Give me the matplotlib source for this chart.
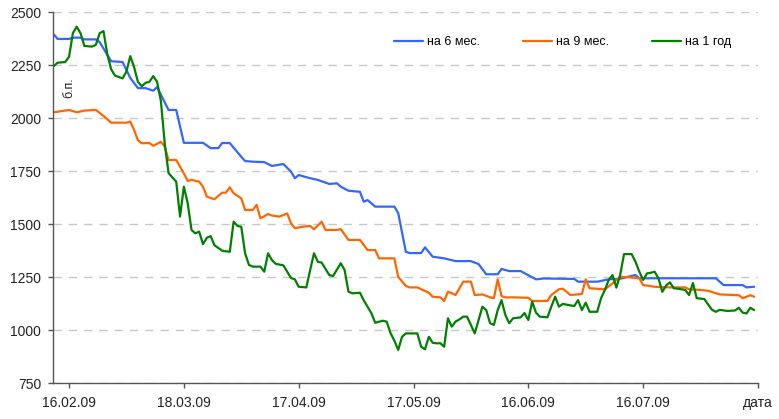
import matplotlib
matplotlib.use("Agg")
import matplotlib.pyplot as plt
from matplotlib.legend import Legend
import pandas as pd

plt.rcParams["font.family"] = ["Liberation Sans", "DejaVu Sans"]

start = pd.Timestamp("2009-02-16")

# days after 16.02.09 and spread in basis points
days_6m = [-4, -3, 0, 1, 3, 4, 7, 8, 11, 14,
           16, 18, 20, 22, 23, 26, 28, 30, 35, 37,
           39, 40, 42, 45, 46, 48, 51, 53, 56, 58,
           59, 60, 63, 65, 68, 70, 71, 73, 76, 77,
           78, 80, 85, 86, 88, 89, 92, 93, 95, 98,
           101, 105, 107, 109, 112, 113, 115, 118, 122, 124,
           132, 133, 138, 141, 144, 147, 148, 149, 169, 171,
           176, 177, 179]
val_6m = [2395, 2373, 2373, 2379, 2379, 2371, 2371, 2358, 2268, 2264,
          2189, 2141, 2141, 2129, 2146, 2038, 2038, 1883, 1883, 1858,
          1858, 1882, 1882, 1817, 1797, 1794, 1792, 1774, 1783, 1747,
          1716, 1731, 1716, 1708, 1689, 1692, 1676, 1657, 1652, 1605,
          1613, 1582, 1582, 1552, 1369, 1363, 1363, 1390, 1346, 1338,
          1325, 1325, 1311, 1263, 1263, 1288, 1278, 1278, 1239, 1243,
          1241, 1228, 1228, 1239, 1242, 1255, 1259, 1244, 1244, 1212,
          1212, 1201, 1204]

days_9m = [-4, 0, 2, 4, 7, 9, 11, 15, 16, 17,
           18, 19, 21, 22, 24, 25, 26, 28, 30, 31,
           32, 34, 35, 36, 38, 40, 41, 42, 43, 45,
           46, 48, 49, 50, 52, 53, 55, 57, 58, 59,
           61, 63, 64, 66, 67, 70, 71, 73, 76, 78,
           80, 81, 85, 86, 88, 89, 91, 94, 95, 97,
           98, 99, 101, 102, 103, 105, 106, 108, 110, 111,
           112, 113, 114, 116, 120, 121, 125, 126, 128, 129,
           131, 134, 135, 136, 140, 142, 144, 146, 149, 150,
           153, 157, 161, 162, 165, 167, 170, 175, 176, 178,
           179]
val_9m = [2027, 2038, 2027, 2035, 2038, 2010, 1978, 1978, 1983, 1943,
          1895, 1881, 1882, 1869, 1888, 1865, 1802, 1802, 1739, 1703,
          1708, 1700, 1676, 1629, 1617, 1648, 1648, 1673, 1645, 1621,
          1566, 1566, 1590, 1527, 1547, 1540, 1535, 1550, 1503, 1480,
          1487, 1491, 1475, 1511, 1472, 1472, 1476, 1425, 1425, 1377,
          1377, 1338, 1338, 1251, 1208, 1201, 1201, 1176, 1157, 1154,
          1137, 1181, 1165, 1197, 1228, 1228, 1165, 1168, 1154, 1150,
          1239, 1160, 1154, 1154, 1152, 1137, 1137, 1165, 1192, 1195,
          1165, 1170, 1239, 1197, 1192, 1220, 1251, 1249, 1244, 1212,
          1204, 1201, 1201, 1192, 1189, 1185, 1168, 1164, 1150, 1164,
          1157]

days_1y = [-4, -3, -1, 0, 1, 2, 3, 4, 6, 7,
           8, 9, 10, 11, 12, 14, 15, 16, 17, 18,
           19, 20, 21, 22, 23, 24, 25, 26, 27, 28,
           29, 30, 31, 32, 33, 34, 35, 36, 37, 38,
           40, 42, 43, 44, 45, 46, 47, 48, 50, 51,
           52, 53, 54, 56, 58, 59, 60, 62, 63, 64,
           65, 66, 68, 69, 71, 72, 73, 74, 76, 77,
           78, 79, 80, 82, 83, 84, 85, 86, 87, 88,
           91, 92, 93, 94, 95, 96, 97, 98, 99, 100,
           101, 102, 103, 104, 106, 107, 108, 109, 110, 111,
           112, 113, 114, 115, 116, 118, 119, 120, 121, 122,
           123, 125, 126, 127, 128, 129, 132, 133, 134, 135,
           136, 138, 139, 140, 141, 142, 143, 144, 145, 147,
           148, 149, 150, 151, 152, 153, 154, 155, 156, 157,
           158, 159, 161, 162, 163, 164, 166, 167, 168, 169,
           170, 172, 174, 175, 176, 177, 178, 179]
val_1y = [2245, 2261, 2264, 2289, 2400, 2431, 2400, 2340, 2337, 2345,
          2400, 2410, 2300, 2230, 2200, 2187, 2220, 2292, 2240, 2170,
          2150, 2166, 2171, 2198, 2171, 2080, 1880, 1740, 1720, 1700,
          1535, 1676, 1598, 1472, 1456, 1464, 1405, 1435, 1443, 1400,
          1374, 1369, 1511, 1491, 1487, 1362, 1307, 1299, 1299, 1275,
          1362, 1330, 1312, 1305, 1245, 1239, 1204, 1201, 1283, 1362,
          1322, 1318, 1259, 1255, 1315, 1283, 1181, 1173, 1176, 1140,
          1110, 1079, 1034, 1044, 1039, 985, 950, 906, 968, 984,
          984, 921, 909, 968, 940, 937, 938, 921, 1055, 1016,
          1040, 1050, 1063, 1063, 984, 1047, 1110, 1094, 1032, 1024,
          1094, 1141, 1071, 1032, 1055, 1060, 1080, 1047, 1134, 1082,
          1063, 1060, 1110, 1157, 1110, 1123, 1113, 1141, 1094, 1129,
          1086, 1086, 1150, 1189, 1236, 1259, 1200, 1260, 1358, 1358,
          1322, 1275, 1236, 1267, 1270, 1275, 1244, 1180, 1210, 1225,
          1197, 1195, 1189, 1165, 1222, 1150, 1146, 1120, 1095, 1086,
          1095, 1090, 1092, 1105, 1082, 1078, 1105, 1094]

series = [
    ("на 6 мес.", days_6m, val_6m, "#3366FF"),
    ("на 9 мес.", days_9m, val_9m, "#FF6600"),
    ("на 1 год", days_1y, val_1y, "#008000"),
]

tick_days = [0, 30, 60, 90, 120, 150, 180]
tick_labels = ["16.02.09", "18.03.09", "17.04.09", "17.05.09", "16.06.09", "16.07.09", "дата"]


def to_dates(days):
    return start + pd.to_timedelta(days, unit="D")


fig = plt.figure(figsize=(7.79, 4.19), dpi=100)
ax = fig.add_axes([0.068, 0.0859, 0.905, 0.8854])

lines = []
for name, d, v, color in series:
    (ln,) = ax.plot(to_dates(d), v, color=color, lw=1.6, label=name,
                    solid_joinstyle="round", solid_capstyle="round")
    lines.append(ln)

ax.set_ylim(750, 2500)
ax.set_yticks(range(750, 2501, 250))
ax.set_xlim(start - pd.Timedelta(days=4.2), start + pd.Timedelta(days=180))
ax.set_xticks(to_dates(tick_days))
ax.set_xticklabels(tick_labels)

ax.yaxis.grid(True, color="#c8c8c8", lw=1, dashes=(6, 5))
ax.set_axisbelow(True)
for side in ("top", "right"):
    ax.spines[side].set_visible(False)
for side in ("left", "bottom"):
    ax.spines[side].set_color("#555555")
    ax.spines[side].set_linewidth(1)
ax.tick_params(axis="both", colors="#555555", labelcolor="#222222",
               length=3.5, width=1, labelsize=10)
ax.tick_params(axis="y", pad=5)
ax.tick_params(axis="x", pad=6)

ax.text(0.023, 0.795, "б.п.", rotation=90, transform=ax.transAxes,
        ha="center", va="center", fontsize=9, color="#222222")

# legend entries placed one by one along the top
for ln, xpos in zip(lines, [0.484, 0.667, 0.850]):
    leg = Legend(ax, [ln], [ln.get_label()], loc="center left",
                 bbox_to_anchor=(xpos, 0.919), frameon=False, fontsize=9,
                 borderpad=0, borderaxespad=0, handlelength=2.3, handletextpad=0.3)
    ax.add_artist(leg)

fig.savefig("out.png", dpi=100)
